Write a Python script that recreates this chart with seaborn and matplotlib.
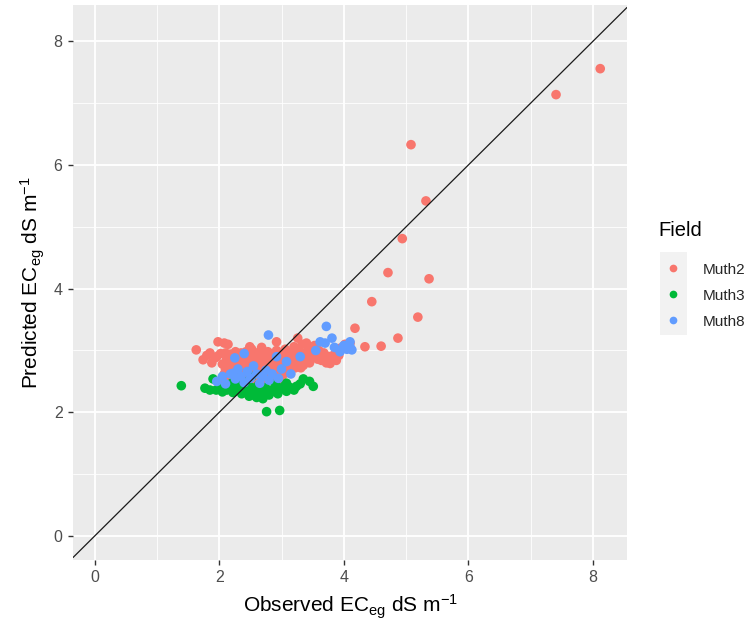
import numpy as np
import pandas as pd
import seaborn as sns
import matplotlib.pyplot as plt
from matplotlib.patches import Rectangle
from matplotlib.ticker import MultipleLocator

# Observed vs predicted ECe (dS/m) for three fields
muth2_obs = [1.63, 1.74, 1.80, 1.85, 1.88, 1.93, 1.96, 1.98, 2.02, 2.05, 2.08, 2.14, 2.10, 2.12,
             2.05, 2.08, 2.12, 2.15, 2.18, 2.20, 2.22, 2.25, 2.27, 2.30, 2.32, 2.35, 2.37, 2.40,
             2.42, 2.45, 2.47, 2.50, 2.52, 2.54, 2.56, 2.58, 2.60, 2.62, 2.64, 2.66, 2.68, 2.70,
             2.72, 2.74, 2.76, 2.78, 2.80, 2.82, 2.84, 2.86, 2.88, 2.90, 2.92, 2.94, 2.96, 2.98,
             3.00, 3.02, 3.04, 3.06, 3.08, 3.10, 3.12, 3.15, 3.18, 3.20, 3.22, 3.25, 3.28, 3.30,
             3.33, 3.36, 3.40, 3.43, 3.46, 3.50, 3.53, 3.56, 3.60, 3.64, 3.68, 3.72, 3.76, 3.78,
             3.80, 3.85, 3.88, 3.90, 3.95, 4.02, 4.10, 4.18, 4.34, 4.60, 4.87, 4.45, 5.19, 4.71,
             5.37, 4.94, 5.32, 5.08, 7.41, 8.12,
             2.26, 2.49, 2.92, 3.26, 3.40, 2.35, 2.55, 2.75, 2.95, 3.12, 2.18, 2.44, 2.66, 2.86,
             3.05, 3.35, 3.66, 3.92,
             2.10, 2.16, 2.24, 2.28, 2.33, 2.38, 2.43, 2.48, 2.53, 2.57, 2.61, 2.65, 2.69, 2.73,
             2.77, 2.81, 2.85, 2.89, 2.93, 2.97, 3.01, 3.05, 3.09, 3.13, 3.17, 3.21, 3.27, 3.31,
             3.38, 3.45, 3.58]
muth2_pred = [3.01, 2.85, 2.92, 2.96, 2.80, 2.88, 2.90, 3.14, 2.95, 2.78, 3.12, 3.10, 2.70, 2.86,
              2.55, 2.62, 2.50, 2.68, 2.74, 2.58, 2.90, 2.82, 2.65, 2.52, 2.72, 2.96, 2.60, 2.80,
              2.68, 2.55, 2.88, 2.74, 3.02, 2.62, 2.84, 2.50, 2.70, 2.92, 2.58, 2.78, 3.05, 2.66,
              2.86, 2.54, 2.74, 2.98, 2.62, 2.82, 2.70, 2.92, 2.56, 2.76, 3.00, 2.66, 2.84, 2.72,
              2.94, 2.60, 2.80, 3.02, 2.70, 2.88, 2.76, 2.96, 2.84, 3.06, 2.72, 2.90, 2.98, 2.80,
              3.10, 2.86, 2.94, 3.02, 2.88, 2.96, 3.08, 2.92, 3.00, 2.84, 2.96, 2.80, 2.90, 2.79,
              2.86, 2.94, 2.84, 3.00, 3.04, 3.10, 3.12, 3.36, 3.06, 3.07, 3.20, 3.79, 3.54, 4.26,
              4.16, 4.81, 5.42, 6.33, 7.14, 7.56,
              2.98, 3.06, 3.14, 3.20, 3.12, 2.46, 2.66, 2.88, 2.50, 2.64, 2.94, 2.72, 2.98, 2.60,
              2.68, 2.76, 2.88, 2.92,
              2.96, 2.80, 2.70, 2.92, 2.84, 2.66, 2.98, 2.62, 2.90, 2.56, 2.80, 2.98, 2.72, 2.94,
              2.60, 2.88, 2.78, 2.66, 2.86, 2.58, 2.78, 2.90, 2.96, 2.68, 2.78, 2.94, 2.84, 2.72,
              2.96, 2.80, 2.86]

muth3_obs = [1.39, 1.77, 1.85, 1.90, 1.95, 2.00, 2.05, 2.12, 2.18, 2.22, 2.28, 2.32, 2.36, 2.40,
             2.44, 2.48, 2.52, 2.55, 2.58, 2.60, 2.63, 2.66, 2.70, 2.71, 2.74, 2.76, 2.80, 2.84,
             2.87, 2.90, 2.94, 2.97, 3.00, 3.04, 3.08, 3.08, 3.14, 3.20, 3.24, 3.30, 3.35, 3.45,
             3.51, 2.45, 2.20, 2.52]
muth3_pred = [2.43, 2.39, 2.36, 2.54, 2.36, 2.40, 2.33, 2.36, 2.42, 2.32, 2.36, 2.44, 2.30, 2.38,
              2.34, 2.26, 2.40, 2.28, 2.36, 2.24, 2.44, 2.32, 2.22, 2.31, 2.40, 2.01, 2.28, 2.36,
              2.34, 2.46, 2.30, 2.03, 2.38, 2.42, 2.47, 2.34, 2.40, 2.36, 2.42, 2.46, 2.54, 2.50,
              2.42, 2.50, 2.47, 2.58]

muth8_obs = [1.96, 2.05, 2.10, 2.18, 2.22, 2.26, 2.30, 2.35, 2.40, 2.45, 2.50, 2.55, 2.60, 2.65,
             2.70, 2.75, 2.79, 2.80, 2.85, 2.92, 2.95, 3.00, 3.08, 3.15, 3.30, 3.55, 3.62, 3.70,
             3.72, 3.81, 3.85, 3.94, 4.00, 4.05, 4.10, 4.10, 4.13, 2.25, 2.40]
muth8_pred = [2.50, 2.58, 2.46, 2.62, 2.63, 2.54, 2.70, 2.58, 2.48, 2.66, 2.55, 2.75, 2.62, 2.47,
              2.58, 2.68, 3.25, 2.52, 2.62, 2.90, 2.55, 2.70, 2.82, 2.62, 2.90, 3.00, 3.14, 3.12,
              3.39, 3.20, 3.05, 2.98, 3.08, 3.02, 3.14, 3.06, 3.01, 2.88, 2.95]

fields = ["Muth2", "Muth3", "Muth8"]
field_colors = ["#F8766D", "#00BA38", "#619CFF"]
x_ticks = [0, 2, 4, 6, 8]
y_ticks = [0, 2, 4, 6, 8]

df = pd.concat([
    pd.DataFrame({"obs": muth2_obs, "pred": muth2_pred, "Field": "Muth2"}),
    pd.DataFrame({"obs": muth3_obs, "pred": muth3_pred, "Field": "Muth3"}),
    pd.DataFrame({"obs": muth8_obs, "pred": muth8_pred, "Field": "Muth8"}),
], ignore_index=True)

sns.set_theme(style="darkgrid")
plt.rcParams["font.family"] = ["Liberation Sans", "DejaVu Sans"]
plt.rcParams["mathtext.fontset"] = "custom"
plt.rcParams["mathtext.rm"] = "Liberation Sans"
plt.rcParams["mathtext.it"] = "Liberation Sans:italic"
plt.rcParams["mathtext.default"] = "regular"

fig = plt.figure(figsize=(7.53, 6.29), dpi=100)
W, H = 753, 629
ax = fig.add_axes([73 / W, 1 - 560 / H, (627 - 73) / W, (560 - 5) / H])
ax.set_facecolor("#EBEBEB")

sns.scatterplot(data=df, x="obs", y="pred", hue="Field", hue_order=fields,
                palette=field_colors, s=48, linewidth=0, alpha=1, ax=ax, zorder=3)
ax.axline((0, 0), slope=1, color="#1a1a1a", lw=0.9, zorder=4)

ax.set_xlim(-0.35, 8.55)
ax.set_ylim(-0.39, 8.59)
ax.set_xticks(x_ticks)
ax.set_yticks(y_ticks)
ax.xaxis.set_minor_locator(MultipleLocator(1))
ax.yaxis.set_minor_locator(MultipleLocator(1))
ax.grid(which="major", color="white", lw=1.3)
ax.grid(which="minor", color="white", lw=0.6)
ax.set_axisbelow(True)
for sp in ax.spines.values():
    sp.set_visible(False)
ax.tick_params(which="major", length=3.5, width=1, color="#333333",
               labelcolor="#4D4D4D", labelsize=11.5, pad=4,
               bottom=True, left=True)
ax.tick_params(which="minor", length=0)

ax.set_xlabel("Observed EC$_{eg}$ dS m$^{-1}$", fontsize=15, color="black", labelpad=5)
ax.set_ylabel("Predicted EC$_{eg}$ dS m$^{-1}$", fontsize=15, color="black", labelpad=5)

# legend on the right: title, grey key boxes, labels
fig.text(658 / W, 1 - 230 / H, "Field", fontsize=14.5, color="black",
         ha="left", va="center")
sns.move_legend(ax, loc="upper left", bbox_to_anchor=(650 / W, 1 - 249 / H),
                bbox_transform=fig.transFigure, frameon=False, title="",
                fontsize=11, handlelength=1.2, handletextpad=1.35,
                labelspacing=0.78, markerscale=0.8)
fig.patches.append(Rectangle((660 / W, 1 - 335 / H), 27 / W, 83 / H,
                             transform=fig.transFigure, facecolor="#F2F2F2",
                             edgecolor="none", zorder=-1))

fig.savefig("out.png", dpi=100)
